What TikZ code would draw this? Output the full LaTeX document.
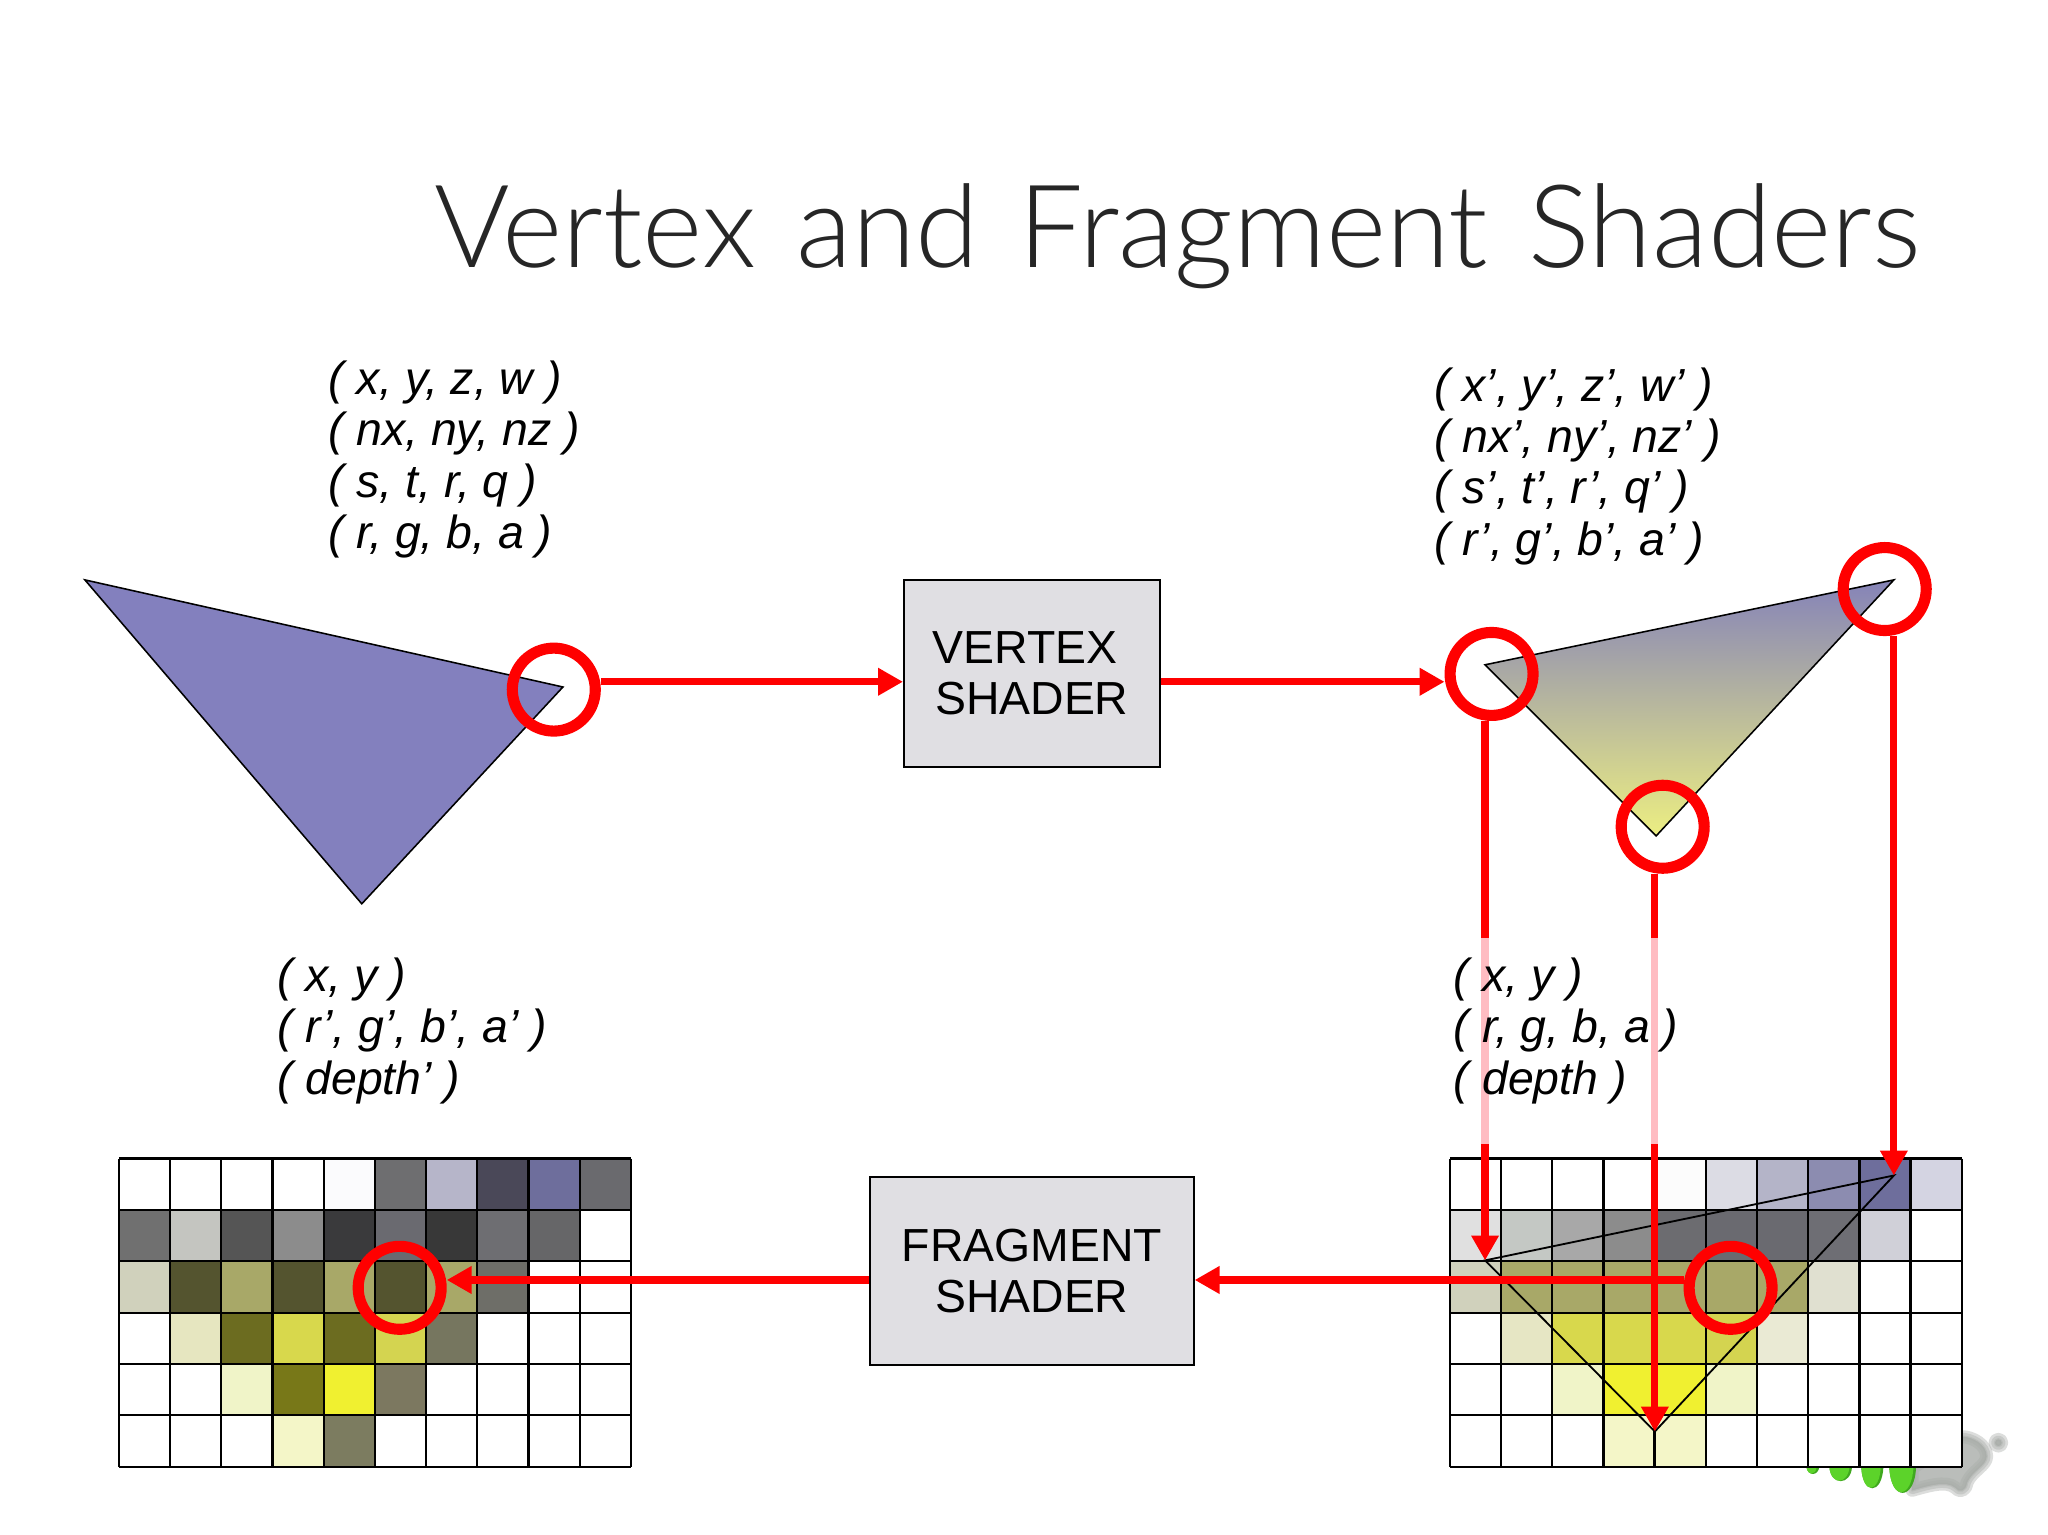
\documentclass[tikz,border=0pt]{standalone}
\usepackage{fontspec}
\setmainfont{Liberation Sans}
\newfontfamily\titlefont[WordSpace=1.28]{Lato Light}
\usepackage{tikz}
\usetikzlibrary{arrows.meta, positioning, calc}
\definecolor{redline}{HTML}{FF0000}
\definecolor{paleline}{HTML}{FFBCC2}
\definecolor{boxfill}{HTML}{E0DFE3}
\definecolor{dropgreen}{HTML}{5CD32A}
\definecolor{dropdark}{HTML}{3FA81E}
\definecolor{shadowgray}{HTML}{A8ACA8}
\tikzstyle{shaderbox} = [rectangle, draw=black, fill=boxfill, line width=0.012cm, inner sep=0pt, text centered, font=\fontsize{10.1pt}{11.2pt}\selectfont, align=center]
\tikzstyle{attrib} = [anchor=north west, inner sep=0pt, align=left, font=\fontsize{10.1pt}{11.2pt}\selectfont\itshape]
\tikzstyle{ring} = [circle, draw=redline, line width=0.085cm, minimum size=0.635cm, inner sep=0pt]
\tikzstyle{arrow} = [redline, line width=0.055cm, -{Triangle[length=0.19cm, width=0.2cm]}]
\tikzstyle{paleseg} = [paleline, line width=0.055cm]
\tikzstyle{gridline} = [black, line width=0.017cm]
\tikzstyle{softshadow} = [shadowgray, fill=shadowgray, opacity=0.4, line join=round]
\newcommand{\pixelrow}[3]{%
  \foreach \hexc [count=\colidx from 0] in {#3} {
    \definecolor{cellc}{HTML}{\hexc}
    \fill[cellc] ({#1+39.2*\colidx},{887+39.33*#2}) rectangle ({#1+39.2*\colidx+39.2},{887+39.33*#2+39.33});
  }}
\newcommand{\pixelgrid}[1]{%
  \foreach \i in {0,...,10} \draw[gridline] ({#1+39.2*\i},887) -- ({#1+39.2*\i},1123);
  \foreach \j in {0,...,6} \draw[gridline] (#1,{887+39.33*\j}) -- ({#1+392},{887+39.33*\j});}
\begin{document}
\begin{tikzpicture}[x=0.01cm, y=-0.01cm]
        \useasboundingbox (0,0) rectangle (1568,1175.2);
        \fill[white] (0,0) rectangle (1568,1175.2);

        % title
        \node (title) [anchor=base west, inner sep=0pt, font=\fontsize{25.1pt}{30pt}\selectfont\titlefont, text=black!85] at (332,205) {Vertex and Fragment Shaders};

        % shadow and green drops behind the pixel grid
        \foreach \w in {0.1,0.06,0.02} {
          \draw[softshadow, line width=\w cm] (1502,1100) .. controls (1510,1100) and (1521,1106) .. (1521,1115) .. controls (1521,1122) and (1510,1126) .. (1506,1135) .. controls (1505,1142) and (1500,1143) .. (1497,1139) .. controls (1490,1133) and (1475,1138) .. (1464,1141) -- (1464,1124) -- cycle;
          \draw[softshadow, line width=\w cm] (1530,1104.6) circle (2.5);
        }
        \foreach \xa/\xb/\yb in {1383/1393/1128.5,1400.6/1418/1134,1425/1442/1139.5,1446.5/1467/1143} {
          \fill[dropdark] (\xa,1123) .. controls (\xa+1,{\yb+(\yb-1123)/3}) and (\xb-1,{\yb+(\yb-1123)/3}) .. (\xb,1123) -- cycle;
          \fill[dropgreen] (\xa,1123) .. controls (\xa+1,{\yb+(\yb-1123)/3}) and (\xb-3,{\yb+(\yb-1123)/4}) .. (\xb-2,1123) -- cycle;
        }

        % source triangle and transformed triangle
        \coordinate (srcA) at (65,444);
        \coordinate (srcB) at (431,526);
        \coordinate (srcC) at (277,692);
        \draw [black, line width=0.012cm, fill={rgb,255:red,131;green,128;blue,190}] (srcA) -- (srcB) -- (srcC) -- cycle;
        \coordinate (dstA) at (1137,509);
        \coordinate (dstB) at (1450,444);
        \coordinate (dstC) at (1268,640);
        \shade [top color={rgb,255:red,133;green,131;blue,184}, bottom color={rgb,255:red,236;green,238;blue,130}] (dstA) -- (dstB) -- (dstC) -- cycle;
        \draw [black, line width=0.012cm] (dstA) -- (dstB) -- (dstC) -- cycle;

        % attribute lists
        \node (attrIn) [attrib] at (250.5,275.6) {( x, y, z, w )\\( nx, ny, nz )\\( s, t, r, q )\\( r, g, b, a )};
        \node (attrOut) [attrib] at (1097.5,280.6) {( x’, y’, z’, w’ )\\( nx’, ny’, nz’ )\\( s’, t’, r’, q’ )\\( r’, g’, b’, a’ )};

        % shader boxes
        \node (vertex) [shaderbox, minimum width=1.96cm, minimum height=1.43cm] at (790,515.5) {VERTEX\hspace*{0.1cm}\\SHADER};
        \node (fragment) [shaderbox, minimum width=2.48cm, minimum height=1.44cm] at (790,973) {FRAGMENT\\SHADER};

        % pixel grids
        \pixelrow{91}{0}{FFFFFF,FFFFFF,FFFFFF,FFFFFF,FBFBFD,6E6E70,B6B5C9,4A4858,6E6E9C,6A6A6E}
        \pixelrow{91}{1}{707070,C4C5C0,555555,8C8C8C,3A3A3C,6A6A70,383838,6E6E72,666668,FFFFFF}
        \pixelrow{91}{2}{D0D1BC,54542F,A8A868,54542F,A8A868,54542F,A8A868,6E6E68,FFFFFF,FFFFFF}
        \pixelrow{91}{3}{FFFFFF,E6E6C0,6C6C20,D8D84C,6C6C20,D4D450,76765F,FFFFFF,FFFFFF,FFFFFF}
        \pixelrow{91}{4}{FFFFFF,FFFFFF,F0F4C8,787818,F0F030,7C7860,FFFFFF,FFFFFF,FFFFFF,FFFFFF}
        \pixelrow{91}{5}{FFFFFF,FFFFFF,FFFFFF,F4F6C8,7C7C60,FFFFFF,FFFFFF,FFFFFF,FFFFFF,FFFFFF}
        \pixelgrid{91}
        \pixelrow{1110}{0}{FFFFFF,FFFFFF,FFFFFF,FFFFFF,FCFCFC,DCDCE4,B4B4C8,8C8CB0,6E6E9C,D4D4E2}
        \pixelrow{1110}{1}{E0E0E0,C4C8C4,A8A8A8,8C8C8C,6C6C70,6A6A70,6A6A70,6E6E74,D0D0D8,FFFFFF}
        \pixelrow{1110}{2}{D0D1BC,A8A868,A8A868,A8A868,A8A868,A8A868,A8A868,E0E0D0,FFFFFF,FFFFFF}
        \pixelrow{1110}{3}{FFFFFF,E6E6C4,D8D84C,D8D84C,D8D84C,D4D450,EAEAD4,FFFFFF,FFFFFF,FFFFFF}
        \pixelrow{1110}{4}{FFFFFF,FFFFFF,F0F4C8,F0F030,F0F030,F0F4C8,FFFFFF,FFFFFF,FFFFFF,FFFFFF}
        \pixelrow{1110}{5}{FFFFFF,FFFFFF,FFFFFF,F4F6C8,F4F6C8,FFFFFF,FFFFFF,FFFFFF,FFFFFF,FFFFFF}
        \pixelgrid{1110}
        \coordinate (rastA) at (1137,965);
        \coordinate (rastB) at (1450,900);
        \coordinate (rastC) at (1267,1096);
        \draw [black, line width=0.014cm] (rastA) -- (rastB) -- (rastC) -- cycle;

        % rings
        \node (ringIn) [ring] at (424,528) {};
        \node (ringA) [ring] at (1142,516) {};
        \node (ringB) [ring] at (1443,451) {};
        \node (ringC) [ring] at (1273,633) {};
        \node (ringRast) [ring] at (1325,986) {};
        \node (ringOut) [ring] at (306,986) {};

        % connectors
        \coordinate (laneA) at (1137,718);
        \coordinate (laneAb) at (1137,876);
        \coordinate (laneC) at (1267,718);
        \coordinate (laneCb) at (1267,876);
        \draw [arrow] (ringIn.east |- 0,522) -- (vertex.west |- 0,522);
        \draw [arrow] (vertex.east |- 0,522) -- (ringA.west |- 0,522);
        \draw [arrow] (fragment.west |- 0,980) -- (ringOut.east |- 0,980);
        \draw [arrow] (ringRast.west |- 0,980) -- (fragment.east |- 0,980);
        \draw [arrow] (laneA |- ringA.south) -- (rastA);
        \draw [arrow] (laneC |- ringC.south) -- (rastC);
        \draw [arrow] (rastB |- ringB.south) -- (rastB);
        \draw [paleseg] (laneA) -- (laneAb);
        \draw [paleseg] (laneC) -- (laneCb);

        % attribute lists on top of the pale lanes
        \node (attrFragOut) [attrib] at (211.5,732.5) {( x, y )\\( r’, g’, b’, a’ )\\( depth’ )};
        \node (attrFragIn) [attrib] at (1112.5,732.5) {( x, y )\\( r, g, b, a )\\( depth )};
    \end{tikzpicture}
\end{document}
